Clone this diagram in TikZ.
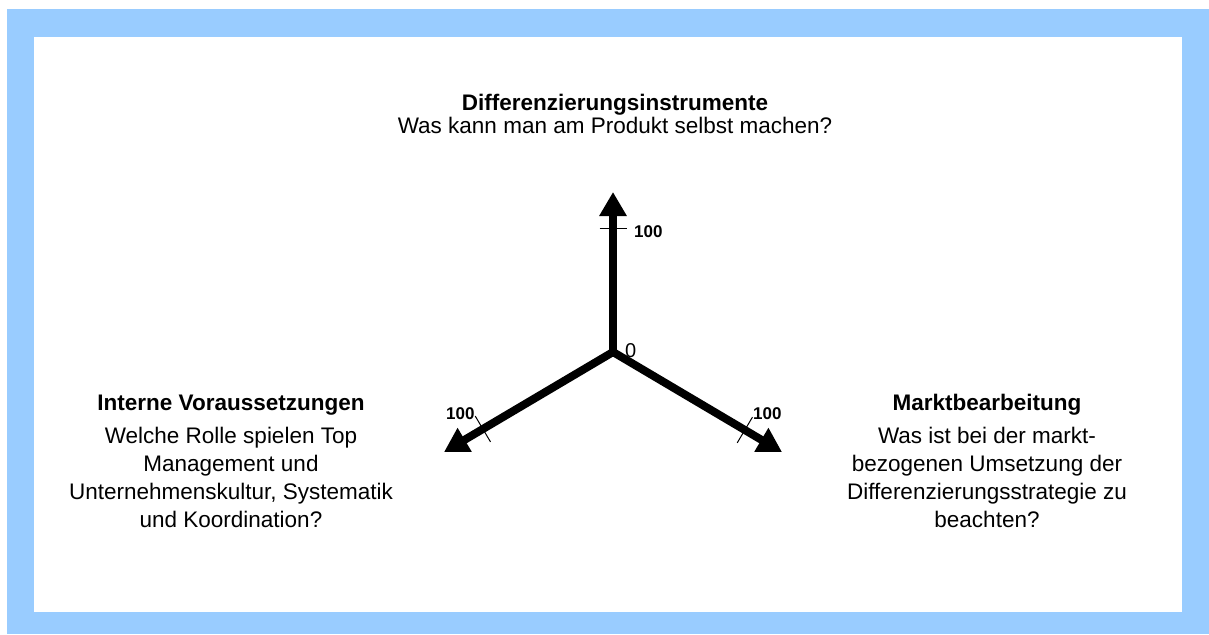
\documentclass[tikz,border=0pt]{standalone}
\usepackage{fontspec}
\setmainfont{Liberation Sans}
\usetikzlibrary{arrows.meta,calc}
\definecolor{frameblue}{HTML}{99CCFF}
\begin{document}
\begin{tikzpicture}[x=1pt,y=-1pt,
  >={Triangle[width=26pt,length=24pt]},
  axisline/.style={line width=8pt, line join=miter},
  tickmark/.style={line width=1pt},
  scalelabel/.style={font=\fontsize{17}{18}\selectfont\bfseries, inner sep=0pt, anchor=base west},
  block/.style={align=center, inner sep=0pt, anchor=base},
  blockfont/.style={font=\fontsize{22.5}{28}\selectfont},
  topfont/.style={font=\fontsize{22.5}{21}\selectfont}
]
\useasboundingbox (0,0) rectangle (1209,634);
% frame
\fill[frameblue] (7,9) rectangle (1209,634);
\fill[white] (34,37) rectangle (1182,612);

% axes
\coordinate (O) at (613,352);
\coordinate (T) at (613,192);
\coordinate (L) at (444,452);
\coordinate (R) at (782,452);
\draw[axisline, <->] (L) -- (O) -- (R);
\draw[axisline, ->] (O) -- (T);

% scale ticks at 100
\coordinate (tT) at ($(O)!0.77!(T)$);
\coordinate (tL) at ($(O)!0.77!(L)$);
\coordinate (tR) at ($(O)!0.78!(R)$);
\draw[tickmark] ($(tT)!13.5pt!90:(T)$) -- ($(tT)!13.5pt!-90:(T)$);
\draw[tickmark] ($(tL)!15pt!90:(L)$) -- ($(tL)!15pt!-90:(L)$);
\draw[tickmark] ($(tR)!15pt!90:(R)$) -- ($(tR)!15pt!-90:(R)$);

% scale labels
\node[scalelabel] (nT) at (634,237) {100};
\node[scalelabel] (nL) at (446,419) {100};
\node[scalelabel] (nR) at (753,419) {100};
\node[inner sep=0pt, anchor=base west, font=\fontsize{20}{22}\selectfont] (zero) at (625,357) {0};

% dimension texts (anchored at the baseline of their last line)
\node[block, topfont] (dim1) at (615,133)
  {\textbf{Differenzierungsinstrumente}\\Was kann man am Produkt selbst machen?};
\node[block, blockfont] (dim2) at (231,527)
  {\textbf{Interne Voraussetzungen}\\[5pt]Welche Rolle spielen Top\\Management und\\Unternehmenskultur, Systematik\\und Koordination?};
\node[block, blockfont] (dim3) at (987,527)
  {\textbf{Marktbearbeitung}\\[5pt]Was ist bei der markt-\\bezogenen Umsetzung der\\Differenzierungsstrategie zu\\beachten?};
\end{tikzpicture}
\end{document}
